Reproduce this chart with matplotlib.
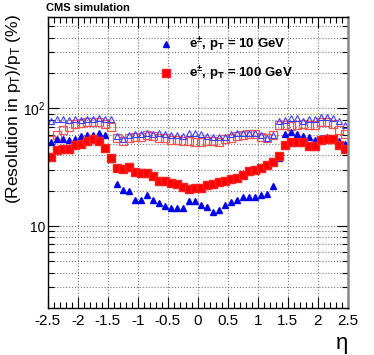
import numpy as np
import matplotlib
matplotlib.use("Agg")
import matplotlib.pyplot as plt
from matplotlib.ticker import MultipleLocator, FixedLocator, LogLocator, FuncFormatter, NullFormatter

plt.rcParams['font.family'] = ['Liberation Sans', 'DejaVu Sans']
plt.rcParams['mathtext.fontset'] = 'custom'
plt.rcParams['mathtext.rm'] = 'Liberation Sans'
plt.rcParams['mathtext.it'] = 'Liberation Sans:italic'
plt.rcParams['mathtext.bf'] = 'Liberation Sans:bold'
plt.rcParams['mathtext.default'] = 'regular'

# eta bin centres, 0.1 wide
eta = np.round(np.arange(-2.45, 2.5, 0.1), 2)

# 10 GeV, filled (core resolution)
res10 = [52, 55, 55, 54, 55, 58, 60, 60, 62, 59, 37,
         22.7, 20.2, 19.8, 16.6, 16.6, 18.3, 16.6, 15.7, 14.8, 14.3,
         14.3, 14.3, 16.3, 16.3, 15.2, 14.5, 13.2, 13.8, 15.0, 16.0,
         16.6, 17.5, 17.5, 17.5, 18.3, 18.9, 21.8, 38,
         61, 63, 61, 58, 57, 54, 56, 57, 56, 53, 50]

# 100 GeV, filled
res100 = [39, 44, 45, 45.5, 49, 49.5, 53, 55.5, 52.5, 46.5, 37.7,
          30.9, 30.3, 31.6, 29, 28, 28, 26.6, 24.1, 24.1, 23.3,
          22.7, 21.5, 20.6, 21.2, 21.2, 22.2, 22.9, 23.8, 24.2, 24.9,
          25.4, 27.1, 29.4, 29.9, 30.9, 33, 35.2, 39.5,
          48.5, 52, 51.6, 52.3, 47.5, 47.5, 54, 54.7, 54.7, 48.9, 45]

# 10 GeV, open
res10_open = [79, 82, 82, 80, 81, 80, 81, 82, 83, 81, 81,
              58.4, 55, 59.6, 60.8, 60.8, 62.4, 60.8, 62.4, 60.8, 59.6,
              59.6, 58.4, 61.6, 62.4, 60.8, 58.4, 57.7, 57.7, 57.7, 60.8,
              61.6, 62.4, 62.4, 62.4, 59.6, 56.5, 59.6,
              77.5, 80, 82.7, 82.7, 79, 82, 82, 85, 85, 83, 77.5, 72.6]

# 100 GeV, open
res100_open = [54, 60, 65, 70, 74, 75, 76, 77, 76, 74, 69,
               55.8, 53.3, 55.8, 57.7, 57.7, 59.6, 58.4, 55.8, 55.8, 54,
               54, 53.3, 53.3, 52.3, 52.3, 53.3, 53.3, 52.3, 54.7, 55.8,
               58.4, 59.6, 60.8, 60.8, 57.7, 56.5, 60,
               72, 72, 71, 72, 74, 72, 73, 77, 76, 74, 66, 61]

fig = plt.figure(figsize=(3.74, 3.55), dpi=100)
ax = fig.add_axes([0.128, 0.132, 0.802, 0.82])

ax.plot(eta, res100_open, ls='none', marker='s', ms=5.5, mfc='none', mec='#ff5050', mew=0.9)
ax.plot(eta, res10_open, ls='none', marker='^', ms=5, mfc='none', mec='#3c3cff', mew=0.8)
h10, = ax.plot(eta, res10, ls='none', marker='^', ms=5, color='#0000ee', mec='#0000ee')
h100, = ax.plot(eta, res100, ls='none', marker='s', ms=5.2, color='#ff0000', mec='#ff2020')

ax.set_yscale('log')
ax.set_xlim(-2.5, 2.5)
ax.set_ylim(2, 600)

ax.xaxis.set_major_locator(MultipleLocator(0.5))
ax.xaxis.set_minor_locator(MultipleLocator(0.1))
ax.xaxis.set_major_formatter(FuncFormatter(lambda v, p: '%g' % v))
ax.yaxis.set_major_locator(FixedLocator([10, 100]))
ax.yaxis.set_minor_locator(LogLocator(base=10, subs=np.arange(2, 10)))
ax.yaxis.set_major_formatter(FuncFormatter(lambda v, p: '10' if v < 50 else '$10^2$'))
ax.yaxis.set_minor_formatter(NullFormatter())

ax.tick_params(which='both', direction='in', top=True, right=True)
ax.tick_params(which='major', length=8, width=0.8)
ax.tick_params(which='minor', length=4, width=0.8)
ax.tick_params(axis='x', pad=4, labelsize=11)
ax.tick_params(axis='y', pad=1.5, labelsize=10)

ax.grid(True, which='major', axis='x', ls=':', color='#777777', lw=0.8)
ax.grid(True, which='both', axis='y', ls=':', color='#777777', lw=0.8)
ax.set_axisbelow(True)

for s in ax.spines.values():
    s.set_linewidth(1.0)
ax.spines['right'].set_color('#888888')
ax.spines['right'].set_linewidth(1.8)

ax.set_ylabel('(Resolution in p$_T$)/p$_T$ (%)', fontsize=12.5, loc='top')
ax.yaxis.set_label_coords(-0.082, 1.01)
ax.set_xlabel('η', fontsize=16)
ax.xaxis.set_label_coords(0.98, -0.085)

fig.text(0.123, 0.977, 'CMS simulation', fontsize=8, fontweight='bold', va='center')

leg = ax.legend([h10, h100], ['e$^{\\pm}$, p$_T$ = 10 GeV', 'e$^{\\pm}$, p$_T$ = 100 GeV'],
                loc='upper left', bbox_to_anchor=(0.32, 0.975), frameon=False,
                prop={'weight': 'bold', 'size': 9.5}, labelspacing=0.75,
                handletextpad=1.0, handlelength=1.5, numpoints=1)

fig.savefig('out.png', dpi=100)
